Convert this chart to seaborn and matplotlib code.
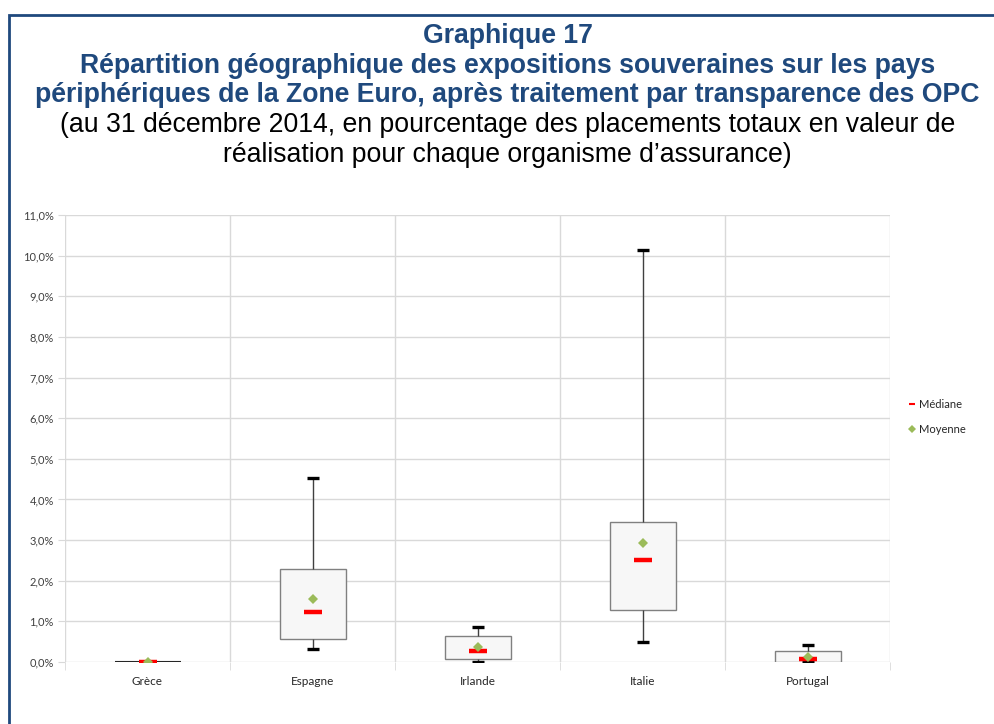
import pandas as pd
import matplotlib.pyplot as plt
import seaborn as sns
from matplotlib.lines import Line2D
from matplotlib.patches import Rectangle
from matplotlib.ticker import FuncFormatter, MultipleLocator, FixedLocator

# Summary values (in % of total investments)
pays = ['Grèce', 'Espagne', 'Irlande', 'Italie', 'Portugal']
minimum = [0.00, 0.33, 0.01, 0.50, 0.00]
q1 = [0.00, 0.57, 0.08, 1.27, 0.00]
mediane = [0.00, 1.22, 0.28, 2.51, 0.07]
q3 = [0.00, 2.28, 0.65, 3.45, 0.27]
maximum = [0.00, 4.53, 0.85, 10.15, 0.41]
moyenne = [0.01, 1.56, 0.38, 2.92, 0.13]

# Five-number summary per country -> box with whiskers at min / max
rows = []
for i, p in enumerate(pays):
    for v in (minimum[i], q1[i], mediane[i], q3[i], maximum[i]):
        rows.append({'pays': p, 'valeur': v})
df = pd.DataFrame(rows)

sns.set_style('white')
plt.rcParams['font.family'] = ['Lato', 'DejaVu Sans']

bleu = '#1f497d'
grille = '#d9d9d9'
rouge = '#ff0000'
vert = '#9bbb59'

fig = plt.figure(figsize=(9.94, 7.24), dpi=100)
ax = fig.add_axes([65 / 994, 1 - 662 / 724, 825 / 994, 447 / 724])

sns.boxplot(data=df, x='pays', y='valeur', order=pays, width=0.4, whis=(0, 100),
            showcaps=False, showfliers=False, color='#f7f7f7', saturation=1,
            linecolor='#808080', linewidth=1,
            medianprops={'visible': False},
            whiskerprops={'color': '#404040', 'linewidth': 1},
            ax=ax)

# flat box (Grèce) shows as a dark line
for patch in ax.patches:
    ext = patch.get_path().get_extents()
    if ext.height < 1e-9:
        patch.set_edgecolor('#262626')
        patch.set_linewidth(1.5)

# caps
for vals in (minimum, maximum):
    sns.pointplot(x=pays, y=vals, order=pays, linestyle='none', marker='_',
                  markersize=9, markeredgewidth=2.4, color='black',
                  errorbar=None, ax=ax, zorder=4)
# median and mean
sns.pointplot(x=pays, y=mediane, order=pays, linestyle='none', marker='_',
              markersize=13, markeredgewidth=3.2, color=rouge,
              errorbar=None, ax=ax, zorder=5)
sns.pointplot(x=pays, y=moyenne, order=pays, linestyle='none', marker='D',
              markersize=5, markeredgewidth=0, color=vert,
              errorbar=None, ax=ax, zorder=6)

ax.set_xlim(-0.5, len(pays) - 0.5)
ax.set_ylim(0, 11)
ax.yaxis.set_major_locator(MultipleLocator(1))
ax.yaxis.set_major_formatter(FuncFormatter(lambda v, _: f'{v:.1f}%'.replace('.', ',')))
ax.xaxis.set_minor_locator(FixedLocator([i - 0.5 for i in range(len(pays) + 1)]))
ax.grid(axis='y', which='major', color=grille, linewidth=1, zorder=0)
ax.grid(axis='x', which='minor', color=grille, linewidth=1, zorder=0)
ax.grid(axis='x', which='major', visible=False)
ax.set_axisbelow(True)
for s in ax.spines.values():
    s.set_visible(False)
ax.tick_params(axis='y', which='major', length=5, color=grille, labelsize=8,
               labelcolor='#404040', left=True, pad=3)
ax.tick_params(axis='x', which='major', length=0, labelsize=8.5,
               labelcolor='#262626', pad=10)
ax.tick_params(axis='x', which='minor', length=6, color=grille, bottom=True)
ax.set_xlabel('')
ax.set_ylabel('')

handles = [Line2D([], [], color=rouge, marker='_', linestyle='none',
                  markersize=5, markeredgewidth=1.5),
           Line2D([], [], color=vert, marker='D', linestyle='none',
                  markersize=4, markeredgewidth=0)]
fig.legend(handles, ['Médiane', 'Moyenne'], loc='upper left',
           bbox_to_anchor=(898 / 994, 1 - 389 / 724), frameon=False,
           fontsize=8, handlelength=0.7, handletextpad=0.25, labelspacing=1.25,
           labelcolor='#262626')

# Frame and titles
fig.add_artist(Rectangle((9 / 994, -0.05), 1.2, 1 - 15 / 724 + 0.05,
                         transform=fig.transFigure, fill=False,
                         edgecolor=bleu, linewidth=2, clip_on=False))
titre_kw = dict(ha='center', va='baseline', fontsize=19.2,
                family=['Liberation Sans', 'DejaVu Sans'])
xc = 507.5 / 994
fig.text(xc, 1 - 43 / 724, 'Graphique 17', fontweight='bold',
         color=bleu, **titre_kw)
fig.text(xc, 1 - 73 / 724,
         'Répartition géographique des expositions souveraines sur les pays',
         fontweight='bold', color=bleu, **titre_kw)
fig.text(xc, 1 - 102 / 724,
         'périphériques de la Zone Euro, après traitement par transparence des OPC',
         fontweight='bold', color=bleu, **titre_kw)
fig.text(xc, 1 - 132 / 724,
         '(au 31 décembre 2014, en pourcentage des placements totaux en valeur de',
         color='black', **titre_kw)
fig.text(xc, 1 - 162 / 724,
         'réalisation pour chaque organisme d’assurance)',
         color='black', **titre_kw)

fig.savefig('out.png', dpi=100)
